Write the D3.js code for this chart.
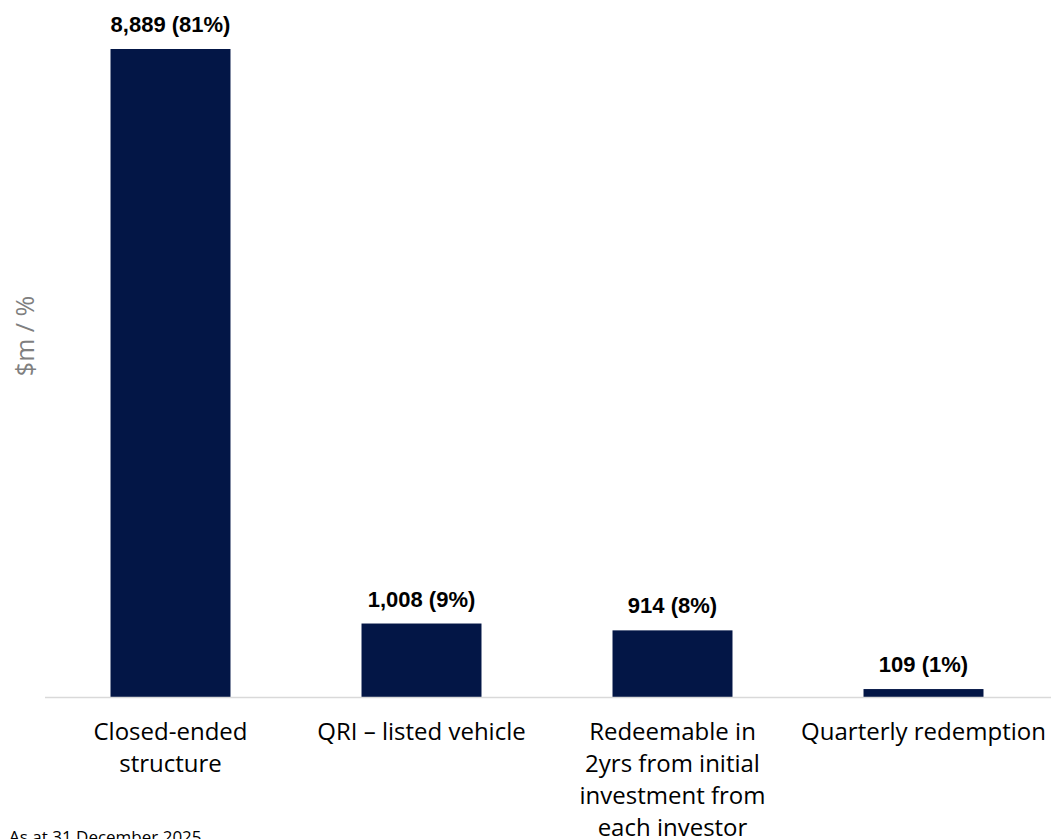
<!DOCTYPE html>
<html>
<head>
<meta charset="utf-8">
<script src="https://cdn.jsdelivr.net/npm/d3@7"></script>
<style>
  body { margin: 0; background: #fff; }
  svg { display: block; }
</style>
</head>
<body>
<svg width="1051" height="839"></svg>
<script>
const categories = ["Closed-ended structure", "QRI – listed vehicle", "Redeemable in 2yrs from initial investment from each investor", "Quarterly redemption"];
const tickLines = [
    ["Closed-ended", "structure"],
    ["QRI – listed vehicle"],
    ["Redeemable in", "2yrs from initial", "investment from", "each investor"],
    ["Quarterly redemption"]
];
const values = [8889, 1008, 914, 109];
const shares = [81, 9, 8, 1];

const svg = d3.select("svg");
const width = +svg.attr("width");
const height = +svg.attr("height");
const margin = { top: 49, right: 2, bottom: 142, left: 45 };
const plotWidth = width - margin.left - margin.right;
const plotHeight = height - margin.top - margin.bottom;

const xScale = d3.scaleBand().domain(categories).range([0, plotWidth]).paddingInner(0.522).paddingOuter(0.261);
const yScale = d3.scaleLinear().domain([0, d3.max(values)]).range([plotHeight, 0]);

const plotArea = svg.append("g")
    .attr("transform", `translate(${margin.left},${margin.top})`);

const fmt = d3.format(",");

// bars
plotArea.selectAll(".bar")
    .data(values)
    .join("rect")
    .attr("class", "bar")
    .attr("x", (d, i) => xScale(categories[i]))
    .attr("y", d => yScale(d))
    .attr("width", xScale.bandwidth())
    .attr("height", d => plotHeight - yScale(d))
    .attr("fill", "#031646");

// baseline
plotArea.append("line")
    .attr("x1", 0)
    .attr("x2", width - margin.left)
    .attr("y1", plotHeight + 0.5)
    .attr("y2", plotHeight + 0.5)
    .attr("stroke", "#d9d9d9")
    .attr("stroke-width", 1.5);

// value labels
plotArea.selectAll(".val")
    .data(values)
    .join("text")
    .attr("class", "val")
    .attr("x", (d, i) => xScale(categories[i]) + xScale.bandwidth() / 2)
    .attr("y", d => yScale(d) - 17)
    .attr("text-anchor", "middle")
    .attr("font-family", "Liberation Sans, Arial, sans-serif")
    .attr("font-weight", "bold")
    .attr("font-size", 22)
    .attr("fill", "#000")
    .text((d, i) => `${fmt(d)} (${shares[i]}%)`);

// category labels
const ticks = plotArea.selectAll(".tick-label")
    .data(tickLines)
    .join("text")
    .attr("class", "tick-label")
    .attr("text-anchor", "middle")
    .attr("font-family", "Open Sans, sans-serif")
    .attr("font-size", 24)
    .attr("fill", "#000");

ticks.each(function (lines, i) {
    const cx = xScale(categories[i]) + xScale.bandwidth() / 2;
    d3.select(this).selectAll("tspan")
        .data(lines)
        .join("tspan")
        .attr("x", cx)
        .attr("y", (d, j) => plotHeight + 43 + j * 32)
        .text(d => d);
});

// y axis title
svg.append("text")
    .attr("transform", `translate(34,${336}) rotate(-90)`)
    .attr("text-anchor", "middle")
    .attr("font-family", "Open Sans, sans-serif")
    .attr("font-size", 25)
    .attr("fill", "#7f7f7f")
    .text("$m / %");

// footnote
svg.append("text")
    .attr("x", 9)
    .attr("y", 843)
    .attr("font-family", "Open Sans, sans-serif")
    .attr("font-size", 17)
    .attr("fill", "#000")
    .text("As at 31 December 2025");
</script>
</body>
</html>
